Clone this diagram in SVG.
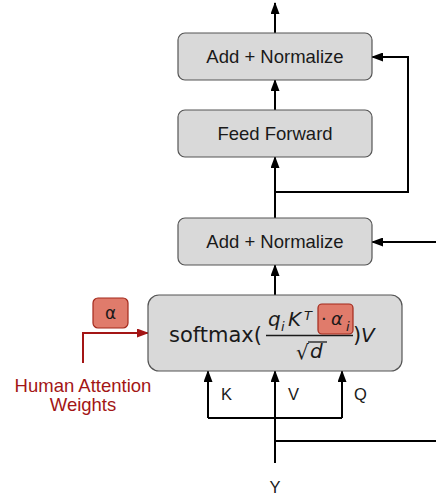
<svg xmlns="http://www.w3.org/2000/svg" width="436" height="497" viewBox="0 0 436 497">
<defs>
<style>
.box{fill:#d9d9d9;stroke:#555;stroke-width:1.2}
.lbl{font-family:"Liberation Sans",Arial,sans-serif;font-size:18.5px;fill:#1a1a1a;text-anchor:middle}
.sm{font-family:"Liberation Sans",Arial,sans-serif;font-size:16.5px;fill:#1a1a1a}
.ln{fill:none;stroke:#000;stroke-width:2}
.red{fill:none;stroke:#a31515;stroke-width:2}
.math{font-family:"DejaVu Sans",sans-serif;fill:#1a1a1a}
.it{font-style:italic}
.rbox{fill:#e07b6b;stroke:#a3281b;stroke-width:1.2}
.hw{font-family:"Liberation Sans",Arial,sans-serif;font-size:18.5px;fill:#a31515;text-anchor:middle}
</style>
<marker id="ah" viewBox="0 0 12 9" refX="11" refY="4.5" markerWidth="12" markerHeight="9" orient="auto" markerUnits="userSpaceOnUse">
<path d="M0,0 L12,4.5 L0,9 z" fill="#000"/>
</marker>
<marker id="ahr" viewBox="0 0 12 9" refX="11" refY="4.5" markerWidth="12" markerHeight="9" orient="auto" markerUnits="userSpaceOnUse">
<path d="M0,0 L12,4.5 L0,9 z" fill="#a31515"/>
</marker>
</defs>
<g id="connectors">
<path class="ln" d="M275,33 V3" marker-end="url(#ah)"/>
<path class="ln" d="M275,110 V80" marker-end="url(#ah)"/>
<path class="ln" d="M275,218 V157" marker-end="url(#ah)"/>
<path class="ln" d="M275,192 H408 V57 H372" marker-end="url(#ah)"/>
<path class="ln" d="M436,242 H372" marker-end="url(#ah)"/>
<path class="ln" d="M275,295 V265" marker-end="url(#ah)"/>
<path class="ln" d="M275,463 V371" marker-end="url(#ah)"/>
<path class="ln" d="M208,418 V371" marker-end="url(#ah)"/>
<path class="ln" d="M342,418 V371" marker-end="url(#ah)"/>
<path class="ln" d="M208,418 H342"/>
<path class="ln" d="M275,441 H436"/>
<path class="red" d="M83,363 V333 H148" marker-end="url(#ahr)"/>
</g>
<g id="add-normalize-top">
<rect class="box" x="178" y="33" width="194" height="47" rx="7"/>
<text class="lbl" x="275" y="63">Add + Normalize</text>
</g>
<g id="feed-forward">
<rect class="box" x="178" y="110" width="194" height="47" rx="7"/>
<text class="lbl" x="275" y="140">Feed Forward</text>
</g>
<g id="add-normalize-mid">
<rect class="box" x="178" y="218" width="194" height="47" rx="7"/>
<text class="lbl" x="275" y="248">Add + Normalize</text>
</g>
<g id="attention">
<rect class="box" x="148" y="295" width="254" height="76" rx="11"/>
<text class="math" x="169" y="342" font-size="21">softmax(</text>
<text class="math it" x="268" y="326" font-size="20">q</text>
<text class="math it" x="281" y="331" font-size="13">i</text>
<text class="math it" x="288" y="326" font-size="20">K</text>
<text class="math it" x="304" y="320" font-size="13">T</text>
<line x1="266" y1="335.5" x2="353" y2="335.5" stroke="#1a1a1a" stroke-width="1.5"/>
<text class="math" x="296" y="359" font-size="20">√</text>
<line x1="308" y1="342" x2="327" y2="342" stroke="#1a1a1a" stroke-width="1.3"/>
<text class="math it" x="310" y="358" font-size="20">d</text>
<text class="math" x="353" y="342" font-size="21">)</text>
<text class="math it" x="361" y="342" font-size="20">V</text>
</g>
<g id="alpha-factor">
<rect class="rbox" x="318" y="304" width="35" height="30" rx="4"/>
<text class="math" x="321" y="325" font-size="18">·</text>
<text class="math it" x="331" y="325" font-size="18">α</text>
<text class="math it" x="346" y="331" font-size="13">i</text>
</g>
<g id="alpha">
<rect class="rbox" x="93" y="298" width="35" height="30" rx="5"/>
<text x="110.5" y="319" font-family="DejaVu Sans,sans-serif" font-size="17" fill="#1a1a1a" text-anchor="middle">α</text>
</g>
<g id="human-attention">
<text class="hw" x="83" y="392">Human Attention</text>
<text class="hw" x="83" y="411">Weights</text>
</g>
<g id="labels">
<text class="sm" x="221" y="400">K</text>
<text class="sm" x="288" y="400">V</text>
<text class="sm" x="354" y="400">Q</text>
<text class="sm" x="275" y="493" text-anchor="middle">Y</text>
</g>
</svg>
